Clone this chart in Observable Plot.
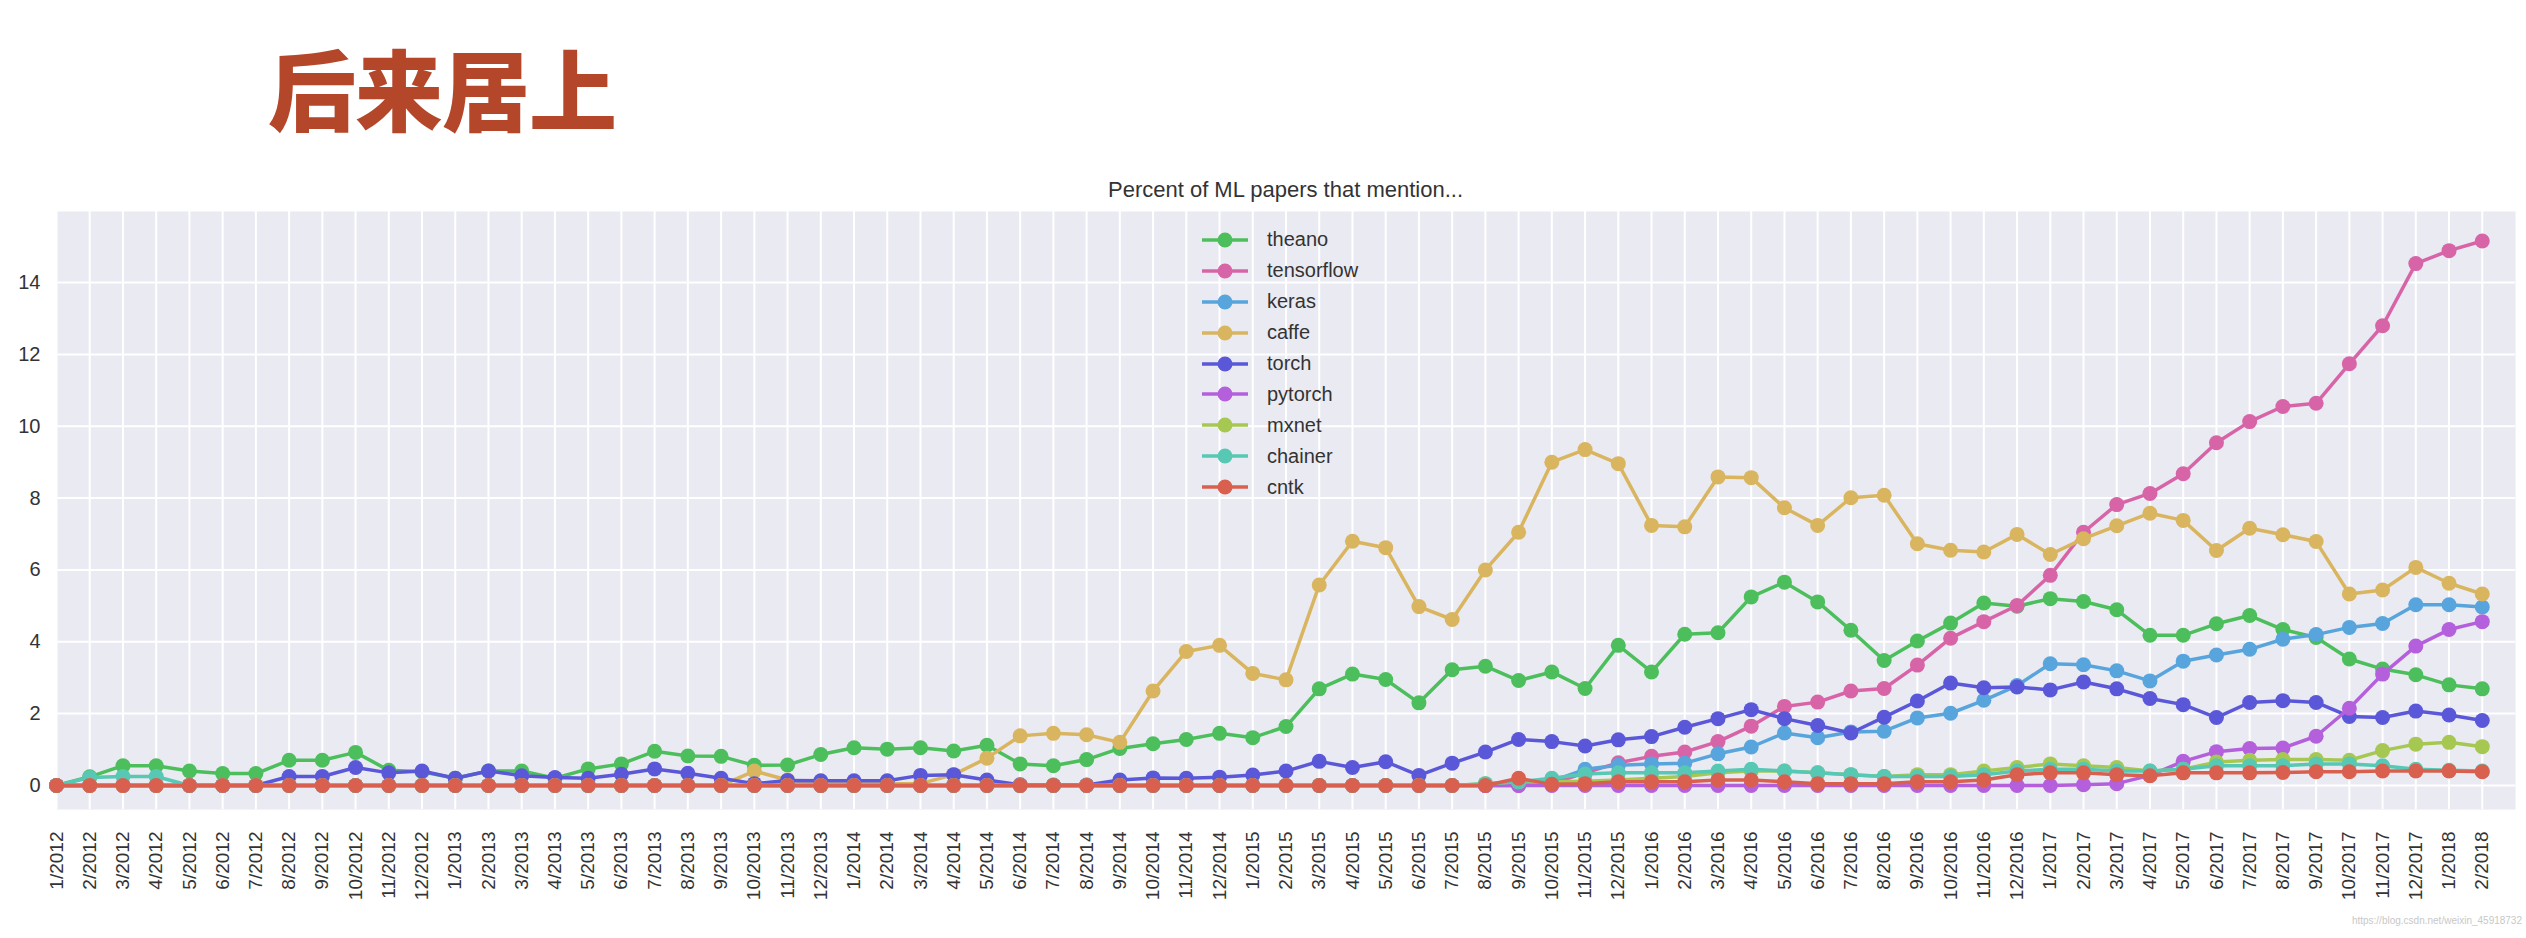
<!DOCTYPE html>
<html><head><meta charset="utf-8">
<script src="https://cdn.jsdelivr.net/npm/d3@7"></script>
<script src="https://cdn.jsdelivr.net/npm/@observablehq/plot@0.6"></script>
<style>
body{margin:0;background:#fff;width:2526px;height:938px;overflow:hidden;font-family:"Liberation Sans",Arial,sans-serif;}
#heading{position:relative;height:175px;}
#heading .big{position:absolute;left:268px;top:38px;font-family:"Noto Sans CJK SC",sans-serif;font-weight:900;font-size:88px;color:#b4472a;line-height:1.1;letter-spacing:-1px;}
#title{height:30px;line-height:30px;padding-left:56px;width:2459px;text-align:center;font-size:22px;color:#333;}
#wrap{position:relative;width:2526px;}
#legend{position:absolute;left:1200px;top:19.5px;}
#legend .row{display:flex;align-items:center;height:30.9px;font-size:20px;color:#333;}
#legend .row svg{width:50px;height:20px;margin-right:17px;}
#mark{position:absolute;right:4px;bottom:12px;font-size:10px;color:#c8c8c8;}
</style></head>
<body>
<div id="heading"><div class="big">后来居上</div></div>
<div id="title">Percent of ML papers that mention...</div>
<div id="wrap"><div id="legend"></div></div>
<div id="mark">https://blog.csdn.net/weixin_45918732</div>
<script>
const months = ["1/2012","2/2012","3/2012","4/2012","5/2012","6/2012","7/2012","8/2012","9/2012","10/2012","11/2012","12/2012",
"1/2013","2/2013","3/2013","4/2013","5/2013","6/2013","7/2013","8/2013","9/2013","10/2013","11/2013","12/2013",
"1/2014","2/2014","3/2014","4/2014","5/2014","6/2014","7/2014","8/2014","9/2014","10/2014","11/2014","12/2014",
"1/2015","2/2015","3/2015","4/2015","5/2015","6/2015","7/2015","8/2015","9/2015","10/2015","11/2015","12/2015",
"1/2016","2/2016","3/2016","4/2016","5/2016","6/2016","7/2016","8/2016","9/2016","10/2016","11/2016","12/2016",
"1/2017","2/2017","3/2017","4/2017","5/2017","6/2017","7/2017","8/2017","9/2017","10/2017","11/2017","12/2017",
"1/2018","2/2018"];
const yTicks = [0,2,4,6,8,10,12,14];
const series = ["theano","tensorflow","keras","caffe","torch","pytorch","mxnet","chainer","cntk"];
const colors = ["#4cbf5c","#d864a8","#57a5dc","#d9b560","#5a58d8","#b460dc","#a6c853","#56c8b3","#d9604f"];

const theano = [0,0.24,0.55,0.55,0.4,0.33,0.33,0.7,0.7,0.92,0.42,0.38,
0.2,0.4,0.4,0.2,0.46,0.6,0.95,0.82,0.81,0.56,0.57,0.86,
1.05,1.01,1.05,0.96,1.12,0.6,0.55,0.72,1.03,1.16,1.28,1.45,
1.33,1.64,2.69,3.1,2.95,2.3,3.22,3.32,2.92,3.16,2.7,3.9,
3.16,4.21,4.25,5.25,5.66,5.11,4.32,3.48,4.02,4.52,5.08,4.99,
5.2,5.12,4.89,4.18,4.18,4.5,4.73,4.34,4.12,3.52,3.24,3.08,
2.8,2.69];
const tensorflow = [0,0,0,0,0,0,0,0,0,0,0,0,
0,0,0,0,0,0,0,0,0,0,0,0,
0,0,0,0,0,0,0,0,0,0,0,0,
0,0,0,0,0,0,0,0,0,0.05,0.35,0.63,
0.81,0.93,1.22,1.65,2.2,2.32,2.63,2.7,3.35,4.1,4.56,5.01,
5.85,7.05,7.82,8.13,8.68,9.54,10.13,10.55,10.64,11.74,12.8,14.53,
14.89,15.16];
const keras = [0,0,0,0,0,0,0,0,0,0,0,0,
0,0,0,0,0,0,0,0,0,0,0,0,
0,0,0,0,0,0,0,0,0,0,0,0,
0,0,0,0,0,0,0,0,0.05,0.12,0.45,0.56,
0.6,0.62,0.88,1.07,1.46,1.33,1.49,1.51,1.88,2.01,2.37,2.78,
3.39,3.36,3.19,2.91,3.46,3.63,3.79,4.07,4.2,4.4,4.51,5.03,
5.03,4.97];
const caffe = [0,0,0,0,0,0,0,0,0,0,0,0,
0,0,0,0,0,0,0,0,0,0.4,0.15,0.05,
0.05,0.05,0.05,0.3,0.76,1.38,1.45,1.41,1.2,2.63,3.73,3.9,
3.12,2.94,5.58,6.8,6.62,4.98,4.62,6.0,7.05,9.0,9.35,8.96,
7.24,7.2,8.59,8.57,7.73,7.24,8.01,8.08,6.73,6.55,6.5,6.99,
6.43,6.87,7.23,7.58,7.38,6.54,7.16,6.98,6.79,5.33,5.44,6.07,
5.63,5.33];
const torch = [0,0,0,0,0,0,0,0.25,0.25,0.5,0.35,0.4,
0.2,0.4,0.27,0.22,0.2,0.31,0.46,0.34,0.2,0.05,0.14,0.13,
0.13,0.13,0.28,0.3,0.15,0.02,0.01,0.01,0.15,0.21,0.2,0.23,
0.29,0.4,0.67,0.5,0.66,0.28,0.62,0.93,1.28,1.22,1.1,1.27,
1.36,1.62,1.86,2.11,1.86,1.67,1.46,1.9,2.35,2.85,2.72,2.74,
2.66,2.88,2.69,2.42,2.25,1.89,2.31,2.36,2.31,1.92,1.89,2.07,
1.96,1.81];
const pytorch = [0,0,0,0,0,0,0,0,0,0,0,0,
0,0,0,0,0,0,0,0,0,0,0,0,
0,0,0,0,0,0,0,0,0,0,0,0,
0,0,0,0,0,0,0,0,0,0,0,0,
0,0,0,0,0,0,0,0,0,0,0,0,
0,0.02,0.05,0.28,0.67,0.94,1.03,1.04,1.37,2.15,3.1,3.88,
4.34,4.56];
const mxnet = [0,0,0,0,0,0,0,0,0,0,0,0,
0,0,0,0,0,0,0,0,0,0,0,0,
0,0,0,0,0,0,0,0,0,0,0,0,
0,0,0,0,0,0,0,0.05,0.1,0.1,0.12,0.15,
0.2,0.25,0.35,0.4,0.4,0.35,0.3,0.25,0.3,0.3,0.4,0.5,
0.6,0.55,0.5,0.4,0.45,0.65,0.7,0.72,0.72,0.7,0.97,1.15,
1.2,1.08];
const chainer = [0,0.22,0.25,0.25,0,0,0,0,0,0,0,0,
0,0,0,0,0,0,0,0,0,0,0,0,
0,0,0,0,0,0,0,0,0,0,0,0,
0,0,0,0,0,0,0,0.05,0.1,0.2,0.32,0.35,
0.35,0.35,0.4,0.45,0.4,0.35,0.3,0.25,0.25,0.25,0.3,0.4,
0.45,0.45,0.4,0.4,0.45,0.55,0.55,0.55,0.6,0.6,0.55,0.45,
0.42,0.4];
const cntk = [0,0,0,0,0,0,0,0,0,0,0,0,
0,0,0,0,0,0,0,0,0,0,0,0,
0,0,0,0,0,0,0,0,0,0,0,0,
0,0,0,0,0,0,0,0,0.2,0.03,0.05,0.1,
0.1,0.1,0.15,0.15,0.1,0.05,0.05,0.05,0.1,0.1,0.15,0.3,
0.35,0.35,0.3,0.27,0.35,0.35,0.35,0.36,0.38,0.38,0.4,0.4,
0.4,0.38];

const values = {theano, tensorflow, keras, caffe, torch, pytorch, mxnet, chainer, cntk};
const rows = series.flatMap(s => values[s].map((v, i) => ({series: s, i, v})));
const xIdx = months.map((m, i) => i);

const marks = [
  Plot.frame({fill: "#eaeaf2", stroke: null}),
  Plot.gridX(xIdx, {stroke: "#ffffff", strokeOpacity: 1, strokeWidth: 2}),
  Plot.gridY(yTicks, {stroke: "#ffffff", strokeOpacity: 1, strokeWidth: 2}),
  Plot.axisX(xIdx, {tickFormat: i => months[i], tickRotate: -90, tickSize: 0, tickPadding: 22, fontSize: 19, fill: "#333", label: null}),
  Plot.axisY(yTicks, {tickSize: 0, tickPadding: 16, fontSize: 20, fill: "#333", label: null})
];
for (const s of series) {
  const d = rows.filter(r => r.series === s);
  marks.push(Plot.line(d, {x: "i", y: "v", stroke: "series", strokeWidth: 3.5}));
  marks.push(Plot.dot(d, {x: "i", y: "v", fill: "series", r: 7.5}));
}

const chart = Plot.plot({
  width: 2526, height: 733,
  marginTop: 6, marginBottom: 129, marginLeft: 56, marginRight: 11,
  x: {domain: [0, 74], axis: null},
  y: {domain: [-0.67, 15.98], axis: null},
  color: {domain: series, range: colors},
  style: {background: "transparent", fontFamily: "Liberation Sans, Arial, sans-serif", overflow: "visible"},
  marks
});
const wrap = document.getElementById("wrap");
wrap.insertBefore(chart, wrap.firstChild);

const legend = document.getElementById("legend");
series.forEach((s, k) => {
  const row = document.createElement("div");
  row.className = "row";
  row.innerHTML = `<svg viewBox="0 0 50 20"><line x1="2" x2="48" y1="10" y2="10" stroke="${colors[k]}" stroke-width="3.5"/><circle cx="25" cy="10" r="7.5" fill="${colors[k]}"/></svg><span>${s}</span>`;
  legend.appendChild(row);
});
</script>
</body></html>
